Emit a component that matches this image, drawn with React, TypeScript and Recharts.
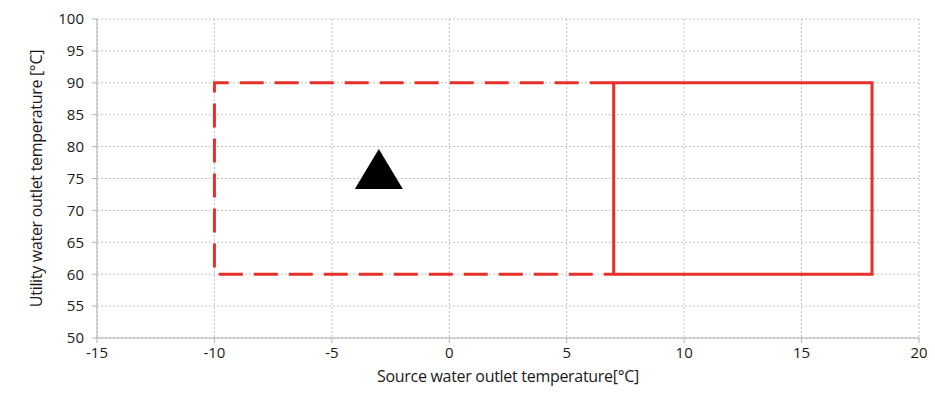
import {
  CartesianGrid,
  ComposedChart,
  Line,
  Scatter,
  XAxis,
  YAxis,
} from "recharts";

const xTicks = [-15, -10, -5, 0, 5, 10, 15, 20];
const yTicks = [50, 55, 60, 65, 70, 75, 80, 85, 90, 95, 100];

// extended range (dashed) and standard range (solid)
const dashedRange = [
  { x: 7, y: 90 },
  { x: -10, y: 90 },
  { x: -10, y: 60 },
  { x: 7, y: 60 },
];
const solidRange = [
  { x: 7, y: 60 },
  { x: 7, y: 90 },
  { x: 18, y: 90 },
  { x: 18, y: 60 },
  { x: 7, y: 60 },
];
const ratedPoint = [{ x: -3, y: 76.5 }];

const RED = "#e8302a";
const FONT = "'Open Sans', sans-serif";

const Triangle = (props: any) => {
  const { cx, cy } = props;
  if (cx == null || cy == null) return null;
  const w = 48;
  const h = 40;
  return (
    <polygon
      points={`${cx},${cy - h / 2} ${cx + w / 2},${cy + h / 2} ${cx - w / 2},${cy + h / 2}`}
      fill="#000"
    />
  );
};

export default function App() {
  return (
    <div style={{ width: 927, height: 378, fontFamily: FONT }}>
      <ComposedChart
        width={927}
        height={378}
        margin={{ top: 11, right: 16, bottom: 18, left: 29 }}
      >
        <CartesianGrid stroke="#c4c4c4" strokeDasharray="2 2" />
        <XAxis
          type="number"
          dataKey="x"
          domain={[-15, 20]}
          ticks={xTicks}
          allowDataOverflow
          height={30}
          tickSize={5}
          tickMargin={4}
          stroke="#b3b3b3"
          tick={{ fill: "#1a1a1a", fontSize: 15, fontFamily: FONT }}
          label={{
            value: "Source water outlet temperature[°C]",
            position: "insideBottom",
            offset: -14,
            fill: "#1a1a1a",
            fontSize: 16,
            fontFamily: FONT,
            letterSpacing: -0.3,
          }}
        />
        <YAxis
          type="number"
          dataKey="y"
          domain={[50, 100]}
          ticks={yTicks}
          allowDataOverflow
          width={60}
          tickSize={5}
          tickMargin={8}
          stroke="#b3b3b3"
          tick={{ fill: "#1a1a1a", fontSize: 15, fontFamily: FONT }}
          label={{
            value: "Utility water outlet temperature [°C]",
            angle: -90,
            position: "insideLeft",
            offset: -1,
            style: { textAnchor: "middle" },
            fill: "#1a1a1a",
            fontSize: 16,
            fontFamily: FONT,
            letterSpacing: -0.3,
          }}
        />
        <Line
          data={dashedRange}
          dataKey="y"
          stroke={RED}
          strokeWidth={3}
          strokeDasharray="24 11"
          dot={false}
          activeDot={false}
          type="linear"
          isAnimationActive={false}
        />
        <Line
          data={solidRange}
          dataKey="y"
          stroke={RED}
          strokeWidth={3}
          dot={false}
          activeDot={false}
          type="linear"
          isAnimationActive={false}
        />
        <Scatter
          data={ratedPoint}
          dataKey="y"
          shape={Triangle}
          isAnimationActive={false}
        />
      </ComposedChart>
    </div>
  );
}
